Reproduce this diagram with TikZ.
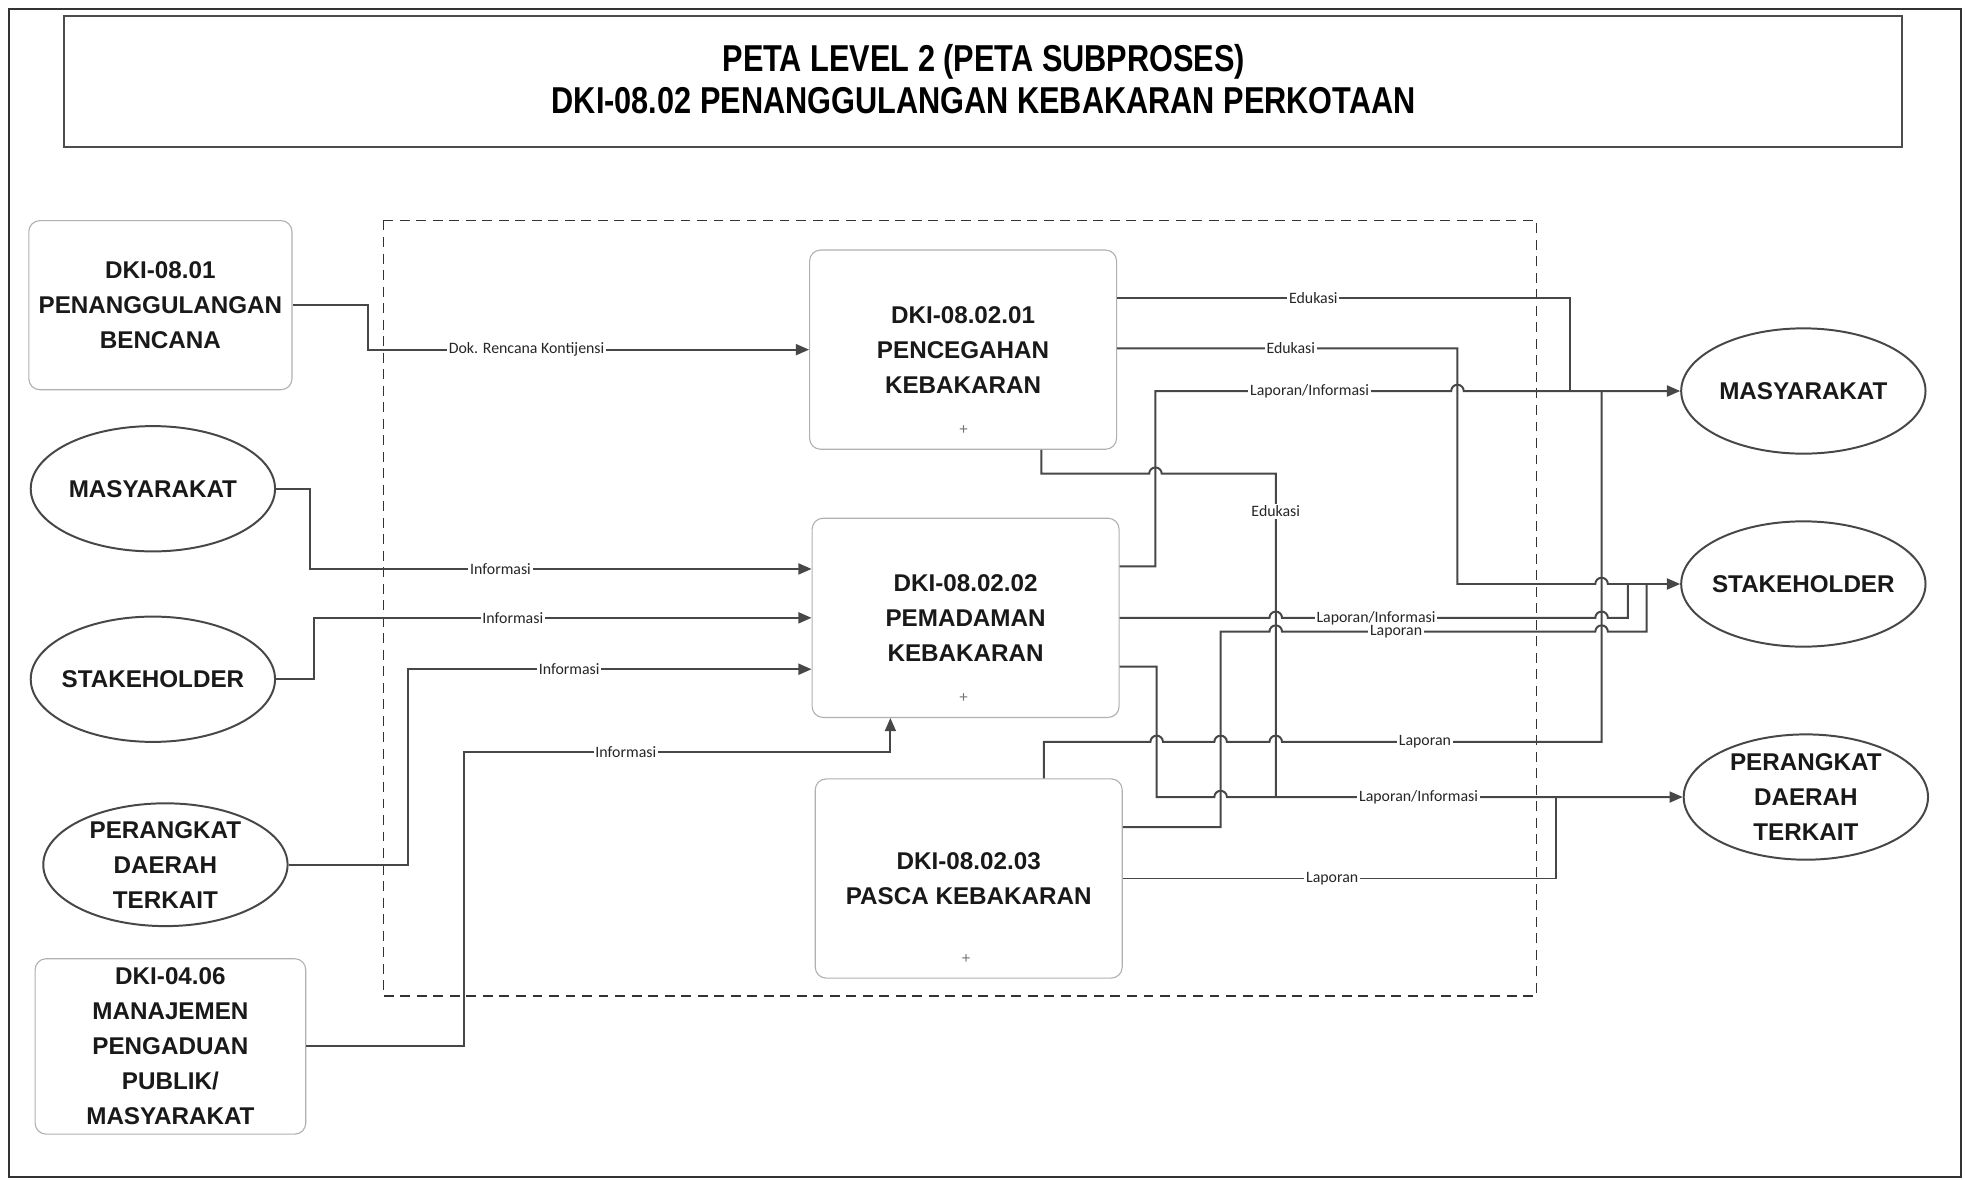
\documentclass[tikz,border=0pt]{standalone}
\usepackage{fontspec}
\setmainfont{Liberation Sans}
\newfontfamily\judulfont{Liberation Sans}[FakeStretch=0.82]
\newfontfamily\labelfont{Carlito}
\usetikzlibrary{arrows.meta, calc, shapes.geometric}
\definecolor{garis}{HTML}{474747}
\definecolor{tepi}{HTML}{B0B0B0}
\tikzset{
  isi/.style    = {align=center, text=black!90, font=\bfseries\fontsize{11}{15.9}\selectfont},
  proses/.style = {isi, draw=tepi, line width=0.5pt, rounded corners=5pt, fill=white,
                   minimum width=4.9cm, minimum height=3.18cm, inner sep=0pt},
  pihak/.style  = {ellipse, draw=garis, line width=0.9pt, fill=white,
                   minimum width=3.9cm, minimum height=2cm, inner sep=0pt,
                   label={[isi]center:#1}},
  alur/.style   = {draw=garis, line width=0.9pt},
  panah/.style  = {alur, -{Triangle[length=6pt, width=5pt]}},
  ket/.style    = {fill=white, inner sep=0.8pt, text=black!85, font=\labelfont\fontsize{7.2}{8}\selectfont},
  tanda/.style  = {inner sep=0pt, text=black!55, font=\fontsize{7}{7}\selectfont}
}
% loncatan garis di titik silang
\newcommand{\lompat}[2]{-- (#1-5,#2) arc[start angle=180, end angle=0, radius=1mm]}

\begin{document}
\begin{tikzpicture}[x=0.02cm, y=-0.02cm]
  \useasboundingbox (0,0) rectangle (1568,941);

  % bingkai dan judul
  \draw[draw=black!80, line width=1.1pt] (7,7) rectangle (1565,939);
  \draw[draw=black!70, line width=0.8pt] (51,13) rectangle (1518,117);
  \node[align=center, font=\judulfont\bfseries\fontsize{17}{19.3}\selectfont] (judul) at (785,63)
    {PETA LEVEL 2 (PETA SUBPROSES)\\DKI-08.02 PENANGGULANGAN KEBAKARAN PERKOTAAN};
  \draw[draw=black!80, line width=0.8pt, dash pattern=on 4.5pt off 3pt] (306,176) rectangle (1226,795);

  % pihak kiri
  \node[proses, minimum width=4.2cm, minimum height=2.7cm] (pb) at (128,243.5)
    {DKI-08.01\\PENANGGULANGAN\\BENCANA};
  \node[pihak={MASYARAKAT}] (masL) at (122,390) {};
  \node[pihak={STAKEHOLDER}] (stkL) at (122,542) {};
  \node[pihak={PERANGKAT\\DAERAH\\TERKAIT}, minimum height=1.96cm] (pdL) at (132,690) {};
  \node[proses, minimum width=4.32cm, minimum height=2.8cm] (mp) at (136,835)
    {DKI-04.06\\MANAJEMEN\\PENGADUAN\\PUBLIK/\\MASYARAKAT};

  % subproses
  \node[proses] (b1) at (768.5,279) {DKI-08.02.01\\PENCEGAHAN\\KEBAKARAN};
  \node[proses] (b2) at (770.5,493) {DKI-08.02.02\\PEMADAMAN\\KEBAKARAN};
  \node[proses] (b3) at (773,701) {DKI-08.02.03\\PASCA KEBAKARAN};
  \node[tanda] (t1) at (769,343) {+};
  \node[tanda] (t2) at (769,557) {+};
  \node[tanda] (t3) at (771,765) {+};

  % pihak kanan
  \node[pihak={MASYARAKAT}] (masR) at (1439,312) {};
  \node[pihak={STAKEHOLDER}] (stkR) at (1439,466) {};
  \node[pihak={PERANGKAT\\DAERAH\\TERKAIT}] (pdR) at (1441,636) {};

  % masukan
  \coordinate (c5) at (370,600);
  \draw[panah] (pb.east) -- ++(60,0) |- node[ket, pos=0.68] (l1) {Dok. Rencana Kontijensi} (b1.west);
  \draw[panah] (masL.east) -- ++(27,0) |- node[ket, pos=0.69] (l2) {Informasi} ($(b2.west)+(0,-39)$);
  \draw[panah] (stkL.east) -- ++(30,0) |- node[ket, pos=0.70] (l3) {Informasi} (b2.west);
  \draw[panah] (pdL.east) -- ++(95,0) |- node[ket, pos=0.70] (l4) {Informasi} ($(b2.west)+(0,41)$);
  \draw[panah] (mp.east) -| (c5) -| node[ket, pos=0.19] (l5) {Informasi} ($(b2.south)+(-60,0)$);

  % keluaran
  \draw[alur] ($(b1.east)+(0,-41)$) -- (1253,238) -- (1253,312)
    node[ket] (l6) at (1048,238) {Edukasi};
  \draw[panah] ($(b1.east)+(0,-1)$) -- (1163,278) -- (1163,466) \lompat{1278}{466} -- (stkR.west)
    node[ket] (l7) at (1030,278) {Edukasi};
  \draw[panah] ($(b2.east)+(0,-41)$) -- (922,452) -- (922,312) \lompat{1163}{312} -- (masR.west)
    node[ket] (l8) at (1045,312) {Laporan/Informasi};
  \draw[alur] ($(b1.south)+(62.5,0)$) -- (831,378) \lompat{922}{378} -- (1018,378) -- (1018,636)
    node[ket] (l9) at (1018,408) {Edukasi};
  \draw[alur] (b2.east) \lompat{1018}{493} \lompat{1278}{493} -- (1299,493) -- (1299,466)
    node[ket] (l10) at (1098,493) {Laporan/Informasi};
  \draw[alur] ($(b3.east)+(0,-41)$) -- (974,660) -- (974,504) \lompat{1018}{504} \lompat{1278}{504}
    -- (1314,504) -- (1314,466)
    node[ket] (l11) at (1114,504) {Laporan};
  \draw[panah] ($(b2.east)+(0,39)$) -- (923,532) -- (923,636) \lompat{974}{636} -- (pdR.west)
    node[ket] (l12) at (1132,636) {Laporan/Informasi};
  \draw[alur] ($(b3.north)+(60,0)$) -- (833,592) \lompat{923}{592} \lompat{974}{592} \lompat{1018}{592}
    -- (1278,592) -- (1278,312)
    node[ket] (l13) at (1137,592) {Laporan};
  \draw[alur] (b3.east) -- (1242,701) -- (1242,636)
    node[ket] (l14) at (1063,701) {Laporan};
\end{tikzpicture}
\end{document}
